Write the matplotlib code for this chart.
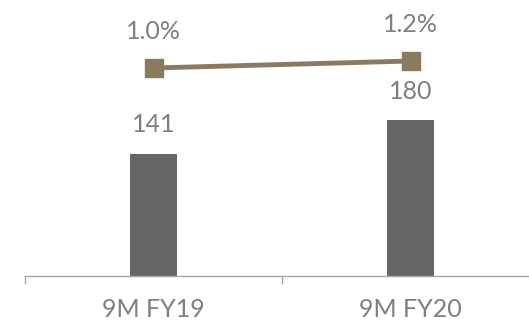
import matplotlib.pyplot as plt

categories = ['9M FY19', '9M FY20']
bar_values = [141, 180]
pct_values = [1.0, 1.2]
pct_labels = ['1.0%', '1.2%']

plt.rcParams['font.family'] = ['Lato', 'DejaVu Sans']

fig = plt.figure(figsize=(5.29, 3.21), dpi=100)
ax = fig.add_axes([25/529, 45/321, 514/529, 276/321])
x = list(range(len(categories)))

ax.bar(x, bar_values, width=0.18, color='#666666')
ax.set_xlim(-0.5, 1.5)
ax.set_ylim(0, 319)
for xi, v in zip(x, bar_values):
    ax.annotate(str(v), (xi, v), xytext=(0, 21), textcoords='offset points',
                ha='center', va='center', fontsize=18, color='#7f7f7f')

for s in ['top', 'left', 'right']:
    ax.spines[s].set_visible(False)
ax.spines['bottom'].set_color('#a6a6a6')
ax.spines['bottom'].set_linewidth(1)
ax.set_yticks([])
ax.set_xticks(x)
ax.set_xticklabels(categories, fontsize=18, color='#7f7f7f')
ax.tick_params(axis='x', which='major', length=0, pad=16)
ax.set_xticks([-0.5, 0.5, 1.5], minor=True)
ax.tick_params(axis='x', which='minor', length=6, color='#a6a6a6', width=1)

ax2 = ax.twinx()
ax2.plot(x, pct_values, color='#8b7b5e', linewidth=3.5, marker='s', markersize=13.5)
ax2.set_ylim(-4.943, 2.943)
ax2.axis('off')
for xi, v, lab in zip(x, pct_values, pct_labels):
    ax2.annotate(lab, (xi, v), xytext=(0, 26.5), textcoords='offset points',
                 ha='center', va='center', fontsize=18, color='#7f7f7f')

fig.savefig('out.png', dpi=100)
